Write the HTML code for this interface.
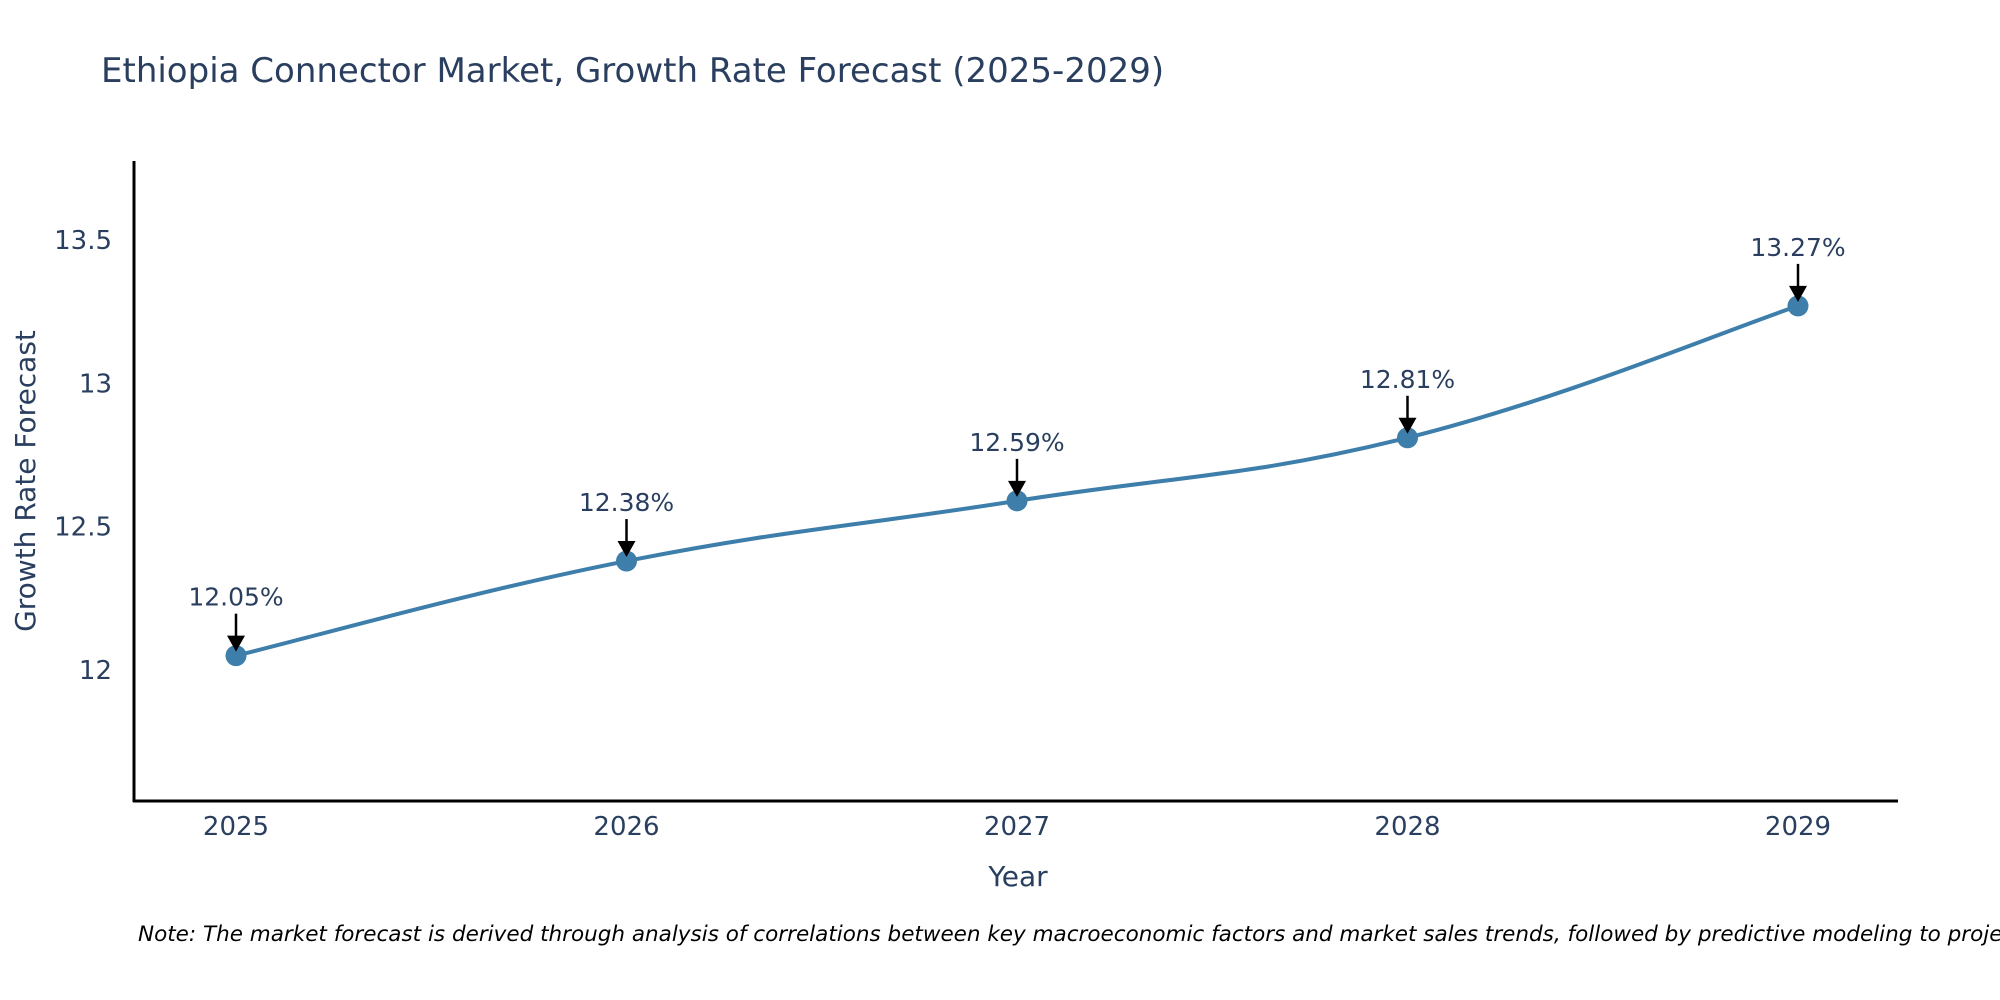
<!DOCTYPE html>
<html><head><meta charset="utf-8"><style>
body{margin:0;background:#fff;}
svg{display:block;font-family:"DejaVu Sans","Liberation Sans",sans-serif;}
</style></head><body>
<svg id="chart" width="2000" height="1000">
<rect width="2000" height="1000" fill="#fff"/>
<text x="101" y="82" font-size="34" fill="#2a3f5f">Ethiopia Connector Market, Growth Rate Forecast (2025-2029)</text>
<g id="yticks"></g>
<g id="xticks"></g>
<path id="line" fill="none" stroke="#3d7eab" stroke-width="4"/>
<g id="marks"></g>
<line x1="134" y1="161" x2="134" y2="802" stroke="#000" stroke-width="3"/>
<line x1="133" y1="801" x2="1898" y2="801" stroke="#000" stroke-width="3"/>
<text x="1018" y="886" font-size="28" fill="#2a3f5f" text-anchor="middle">Year</text>
<text transform="translate(35,481) rotate(-90)" font-size="28" fill="#2a3f5f" text-anchor="middle">Growth Rate Forecast</text>
<text x="138" y="941" font-size="21.5" font-style="italic" fill="#000">Note: The market forecast is derived through analysis of correlations between key macroeconomic factors and market sales trends, followed by predictive modeling to project future sales.</text>
</svg>
<script>
const years = [2025, 2026, 2027, 2028, 2029];
const values = [12.05, 12.38, 12.59, 12.81, 13.27];
const labels = ["12.05%", "12.38%", "12.59%", "12.81%", "13.27%"];
const yTicks = [12, 12.5, 13, 13.5];
const yTickLabels = ["12", "12.5", "13", "13.5"];

const NS = "http://www.w3.org/2000/svg";
const xS = v => 236 + (v - 2025) * 390.5;
const yS = v => 670 - (v - 12) * 286.7;
function mk(tag, attrs, parent){const e=document.createElementNS(NS,tag);for(const k in attrs)e.setAttribute(k,attrs[k]);parent.appendChild(e);return e;}

const yt = document.getElementById('yticks');
yTicks.forEach((t,i)=>{
  const e = mk('text',{x:112,y:yS(t)+9,'font-size':26,fill:'#2a3f5f','text-anchor':'end'},yt);
  
  
  e.textContent = yTickLabels[i];
});
const xt = document.getElementById('xticks');
years.forEach(y=>{
  const e = mk('text',{x:xS(y),y:835,'font-size':26,fill:'#2a3f5f','text-anchor':'middle'},xt);
  
  
  e.textContent = y;
});

const pts = years.map((y,i)=>[xS(y), yS(values[i])]);
let d = `M${pts[0][0]},${pts[0][1]}`;
const s = 0.2;
for(let i=0;i<pts.length-1;i++){
  const p0=pts[Math.max(i-1,0)], p1=pts[i], p2=pts[i+1], p3=pts[Math.min(i+2,pts.length-1)];
  const c1=[p1[0]+(p2[0]-p0[0])*s, p1[1]+(p2[1]-p0[1])*s];
  const c2=[p2[0]-(p3[0]-p1[0])*s, p2[1]-(p3[1]-p1[1])*s];
  d += ` C${c1[0]},${c1[1]} ${c2[0]},${c2[1]} ${p2[0]},${p2[1]}`;
}
document.getElementById('line').setAttribute('d', d);

const g = document.getElementById('marks');
pts.forEach((p,i)=>{
  const c = mk('circle',{cx:p[0],cy:p[1],r:10.5,fill:'#3d7eab'},g);
  
  
  const l = mk('line',{x1:p[0],y1:p[1]-42,x2:p[0],y2:p[1]-18,stroke:'#000','stroke-width':2.5},g);
  
  
  const h = mk('polygon',{points:`${p[0]-9},${p[1]-20} ${p[0]+9},${p[1]-20} ${p[0]},${p[1]-4}`,fill:'#000'},g);
  
  
  const t = mk('text',{x:p[0],y:p[1]-50,'font-size':25,fill:'#2a3f5f','text-anchor':'middle'},g);
  
  
  t.textContent = labels[i];
});
</script>
</body></html>
